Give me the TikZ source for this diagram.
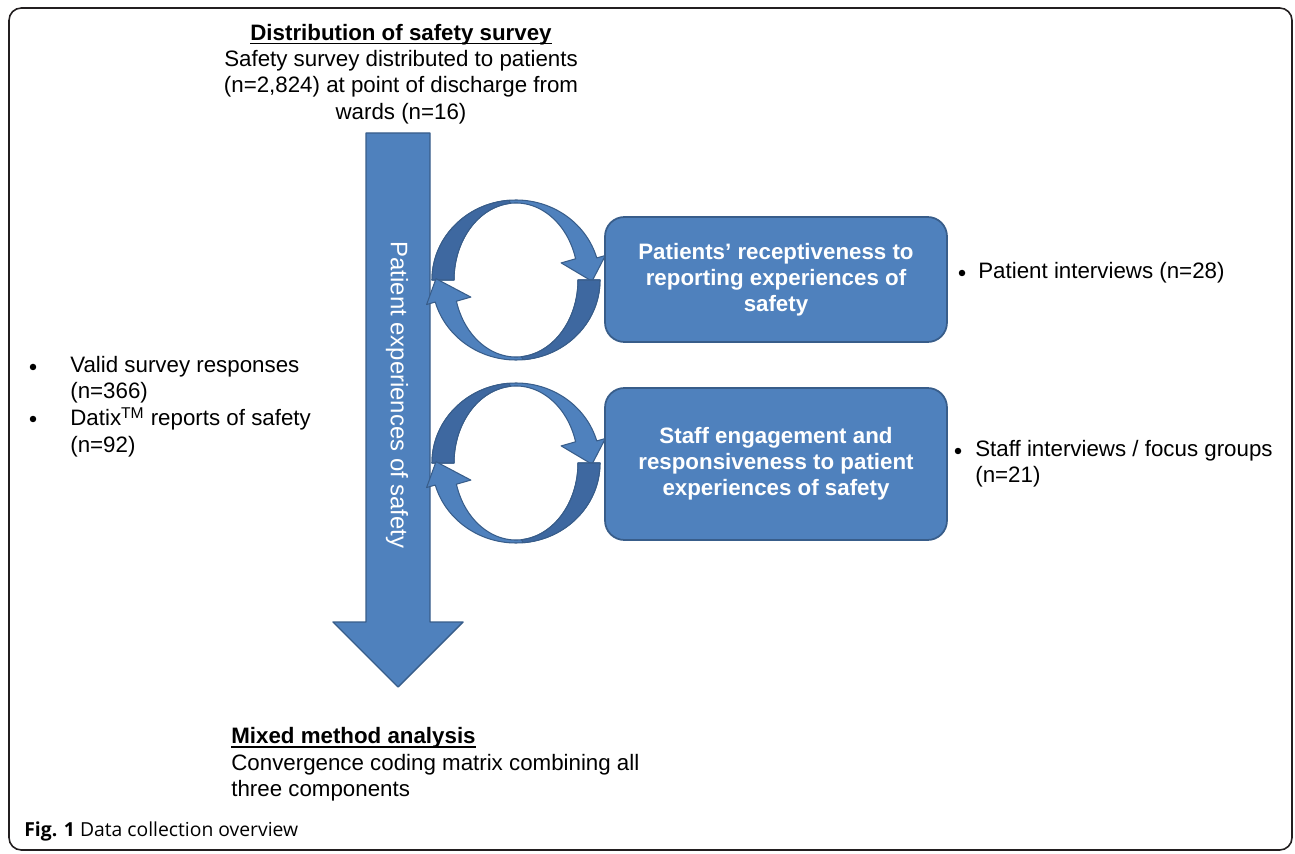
\documentclass[tikz,border=0pt]{standalone}
\usepackage{fontspec}
\setmainfont{Liberation Sans}
\newfontfamily\capfont{Open Sans}
\usepackage{tikz}
\usetikzlibrary{arrows.meta}
\definecolor{flowc}{RGB}{79,129,189}
\definecolor{edgec}{RGB}{56,93,138}
\definecolor{shadec}{RGB}{62,104,160}
\definecolor{framec}{RGB}{35,31,32}
\newcommand\ulhead[1]{\setbox0=\hbox{\bfseries #1}\leavevmode\rlap{\vrule height -1.3pt depth 2.3pt width \wd0}\box0}

\begin{document}
\begin{tikzpicture}[x=0.02cm,y=0.02cm,
  txt/.style={font=\fontsize{12.7}{15}\selectfont,inner sep=0pt},
  dot/.style={circle,fill=black,inner sep=0pt,minimum size=0.13cm},
  loopc/.style={fill=flowc,draw=edgec,line width=0.6pt,line join=round},
  loopd/.style={fill=shadec,draw=edgec,line width=0.6pt,line join=round},
  stagebox/.style={fill=flowc,draw=edgec,line width=1pt,rounded corners=11pt,
    minimum width=6.84cm,text=white,align=center,
    font=\bfseries\fontsize{12.7}{14.8}\selectfont}]
\useasboundingbox (0,0) rectangle (1295,853);
\draw[framec,line width=0.9pt,rounded corners=7pt] (9,3) rectangle (1292,845);

% main downward flow arrow
\draw[fill=flowc,draw=edgec,line width=0.8pt,line join=round]
  (366,720) -- (430,720) -- (430,231) -- (463,231) -- (398,166) -- (333,231) -- (366,231) -- cycle;
\node[rotate=-90,text=white,inner sep=0pt,font=\fontsize{13.6}{16}\selectfont] (flowlbl) at (397,458) {Patient experiences of safety};

% feedback loops between the flow and the two stages
\foreach \cy in {573,390}{
\begin{scope}[shift={(516,\cy)}]
\draw[loopc] (180:84 and 80) arc[start angle=180,end angle=16,x radius=84,y radius=80]
  -- (16:93 and 89) -- (-1:76 and 72) -- (16:47 and 62) -- (16:62 and 77)
  arc[start angle=16,end angle=180,x radius=62,y radius=77] -- cycle;
\draw[loopd] (180:84 and 80) arc[start angle=180,end angle=95,x radius=84,y radius=80]
  -- (95:62 and 77) arc[start angle=95,end angle=180,x radius=62,y radius=77] -- cycle;
\draw[loopc] (0:84 and 80) arc[start angle=0,end angle=-164,x radius=84,y radius=80]
  -- (-164:93 and 89) -- (-181:80 and 76) -- (-164:47 and 62) -- (-164:62 and 77)
  arc[start angle=-164,end angle=0,x radius=62,y radius=77] -- cycle;
\draw[loopd] (0:84 and 80) arc[start angle=0,end angle=-85,x radius=84,y radius=80]
  -- (-85:62 and 77) arc[start angle=-85,end angle=0,x radius=62,y radius=77] -- cycle;
\end{scope}
}

\node[stagebox,minimum height=2.5cm] (recept) at (776,573.5) {Patients’ receptiveness to\\reporting experiences of\\safety};
\node[stagebox,minimum height=3.04cm] (engage) at (776,389) {Staff engagement and\\responsiveness to patient\\experiences of safety};

\node[txt,align=center] (survey) at (401,779) {\ulhead{Distribution of safety survey}\\Safety survey distributed to patients\\(n=2,824) at point of discharge from\\wards (n=16)};
\node[txt,align=left,anchor=west] (mixed) at (231,88.5) {\ulhead{Mixed method analysis}\\Convergence coding matrix combining all\\three components};

\node[dot] (bvalid) at (33,486) {};
\node[txt,align=left,anchor=west] (valid) at (70,473) {Valid survey responses\\(n=366)};
\node[dot] (bdatix) at (33,434) {};
\node[txt,align=left,anchor=west] (datix) at (70,421) {Datix\textsuperscript{TM} reports of safety\\(n=92)};

\node[dot] (bpint) at (962,580) {};
\node[txt,anchor=west] (pint) at (978,580) {Patient interviews (n=28)};
\node[dot] (bsint) at (958,402) {};
\node[txt,align=left,anchor=west] (sint) at (975,389) {Staff interviews / focus groups\\(n=21)};

\node[anchor=west,inner sep=0pt,font=\capfont\fontsize{11}{13}\selectfont] (caption) at (24,22) {\textbf{Fig. 1} Data collection overview};
\end{tikzpicture}
\end{document}
